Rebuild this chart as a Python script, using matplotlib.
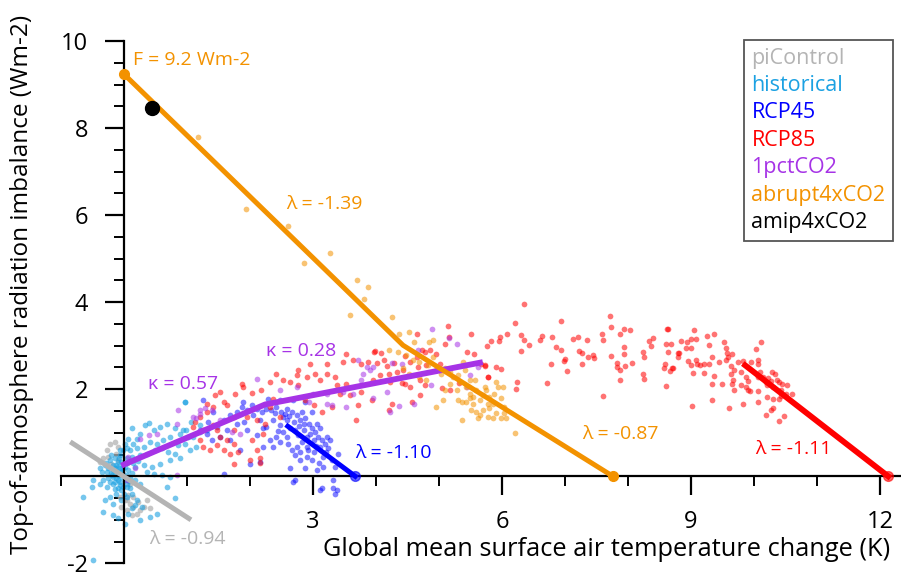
import numpy as np
import matplotlib
matplotlib.use("Agg")
import matplotlib.pyplot as plt
from matplotlib.lines import Line2D

plt.rcParams['font.family'] = ['Open Sans', 'DejaVu Sans']
plt.rcParams['axes.unicode_minus'] = False

# colours
c_pi = '#b4b4b4'
c_hist = '#1ba1e2'
c_rcp45 = '#0000ff'
c_rcp85 = '#ff0000'
c_1pct = '#a633e6'
c_abr = '#f39200'
c_amip = '#000000'

# ---- scatter clouds (dT, N) ----
pi_pts = [(-0.22, 0.75), (-0.14, 0.79), (-0.09, 0.67), (-0.27, 0.60), (-0.33, 0.41), (-0.20, 0.29),
          (0.04, -0.55), (0.10, -0.63), (0.15, -0.70), (0.23, -0.59), (0.31, -0.70), (0.41, -0.74),
          (0.25, -0.78), (0.04, -0.78), (-0.04, -0.70), (0.15, -0.48), (0.12, -0.90), (0.20, -0.86),
          (0.36, -0.55), (0.02, -0.55), (-0.06, -0.48), (0.07, -0.44), (-0.38, 0.33), (-0.25, 0.44),
          (-0.12, 0.52), (-0.09, 0.37), (0.04, -0.02), (0.10, -0.17)]

hist_pts = [(0.97, 1.71), (0.39, 1.23), (0.33, 1.17), (0.12, 1.10), (0.25, 0.98), (0.47, 1.06),
            (0.57, 1.13), (0.68, 1.20), (0.81, 1.10), (0.89, 0.98), (0.73, 0.90), (0.62, 0.83),
            (0.52, 0.75), (0.41, 0.79), (0.31, 0.67), (0.20, 0.64), (0.09, 0.60), (0.02, 0.75),
            (-0.01, 0.60), (-0.06, 0.48), (-0.14, 0.41), (-0.22, 0.37), (-0.30, 0.25), (-0.38, 0.18),
            (-0.35, 0.10), (-0.27, 0.10), (-0.17, 0.14), (-0.09, 0.21), (-0.04, 0.33), (0.04, 0.41),
            (0.12, 0.44), (0.25, 0.48), (0.36, 0.52), (0.49, 0.60), (0.60, 0.64), (0.70, 0.56),
            (0.81, 0.52), (0.86, 0.71), (0.73, 0.37), (0.57, 0.29), (0.44, 0.21), (0.31, 0.25),
            (0.18, 0.21), (0.07, 0.14), (-0.01, 0.06), (-0.09, 0.02), (-0.17, -0.02), (-0.25, -0.05),
            (-0.33, -0.09), (-0.49, -0.09), (-0.51, -0.25), (-0.38, -0.17), (-0.27, -0.25), (-0.17, -0.17),
            (-0.06, -0.13), (0.02, -0.09), (0.10, -0.05), (0.18, -0.09), (0.25, -0.17), (0.04, -0.25),
            (-0.04, -0.32), (-0.12, -0.40), (-0.22, -0.48), (-0.30, -0.55), (-0.17, -0.63), (-0.04, -0.55),
            (0.04, -0.48), (0.12, -0.40), (0.20, -0.55), (0.28, -0.70), (0.52, -0.86), (0.41, -0.94),
            (0.25, -1.01), (0.02, -1.09), (-0.09, -0.97), (-0.17, -0.90), (-0.33, -0.82), (-0.65, -0.48),
            (-0.49, -1.93), (0.68, -0.25), (0.81, -0.51), (0.73, -0.02), (0.60, 0.02), (0.47, 0.06),
            (0.36, 0.10), (-0.09, 0.33), (-0.01, 0.25), (-0.12, 0.25), (-0.17, 0.25), (-0.06, 0.18),
            (-0.14, 0.18), (-0.01, 0.18), (-0.06, 0.10), (-0.12, 0.10), (0.02, 0.21), (0.04, 0.02),
            (-0.04, -0.02), (-0.12, -0.05), (-0.06, -0.21), (0.04, -0.17), (-0.01, -0.25), (-0.09, -0.28),
            (0.10, -0.28), (-0.14, -0.13), (-0.22, -0.13), (-0.19, 0.02), (-0.25, 0.18), (-0.20, 0.48),
            (-0.06, 0.60), (0.04, 0.64), (0.15, 0.75), (0.20, 0.86), (0.07, 0.86), (0.12, -0.74),
            (0.07, -0.86), (0.18, -0.67), (0.99, 1.07), (1.07, 1.25), (1.10, 0.90), (1.21, 1.02),
            (1.21, 1.17), (1.31, 1.06), (0.94, 1.06), (1.02, 0.90), (0.97, 0.75), (1.05, 0.60),
            (1.15, 0.68), (0.89, 0.41), (0.97, 1.71),
            (-0.03, 0.12), (0.05, 0.30), (-0.10, -0.08), (0.12, 0.08), (-0.20, 0.08), (0.00, -0.40),
            (-0.08, 0.42), (0.15, 0.30), (-0.28, 0.30), (0.08, -0.12), (-0.15, -0.30), (0.22, 0.35)]

rcp45_pts = [(1.26, 1.75), (1.42, 1.48), (1.34, 1.25), (1.47, 1.13), (1.58, 1.29), (1.68, 1.40),
             (1.79, 1.48), (1.87, 1.59), (1.95, 1.52), (2.03, 1.63), (2.11, 1.55), (2.19, 1.48),
             (2.26, 1.55), (2.34, 1.52), (2.42, 1.59), (2.50, 1.48), (2.58, 1.55), (2.66, 1.48),
             (2.74, 1.40), (2.79, 1.29), (2.87, 1.33), (2.93, 1.21), (2.98, 1.10), (3.03, 1.02),
             (3.08, 0.90), (3.14, 0.83), (3.19, 0.75), (3.24, 0.64), (3.22, 0.90), (3.11, 0.68),
             (3.01, 0.83), (2.90, 0.90), (2.82, 0.79), (2.74, 0.68), (2.66, 0.60), (2.71, 0.48),
             (2.79, 0.37), (2.90, 0.44), (3.01, 0.56), (3.16, 0.44), (3.30, 0.37), (3.35, 0.21),
             (3.16, 0.21), (2.63, 0.18), (2.69, -0.13), (2.71, -0.09), (3.14, -0.28), (3.32, -0.28),
             (3.35, -0.40), (1.58, 0.06), (2.16, 0.33), (2.00, 0.29), (1.84, 0.60), (1.68, 0.83),
             (1.52, 0.90), (1.39, 0.83), (1.31, 0.98), (1.21, 1.06), (1.95, 1.06), (2.11, 0.94),
             (2.26, 1.13), (2.37, 1.29), (2.48, 1.17), (2.58, 1.29), (2.53, 1.02), (2.42, 0.90),
             (2.32, 0.83), (2.21, 0.68), (2.37, 0.68), (2.48, 0.79), (2.58, 0.90), (2.63, 1.10),
             (2.71, 1.06), (2.77, 0.94), (2.85, 1.06), (2.87, 1.71), (2.69, 1.75), (2.48, 1.75),
             (2.29, 1.78), (1.89, 1.71), (2.82, 1.48), (2.53, 1.36), (2.16, 1.29), (1.79, 1.21),
             (1.63, 1.06), (2.98, 1.48), (3.06, 1.21), (3.11, 1.10), (3.27, 0.83), (3.40, 0.52),
             (2.90, 0.68), (2.98, 0.37), (3.06, 0.14), (3.38, -0.32), (3.11, -0.31), (3.32, -0.09),
             (2.55, 1.42), (2.62, 1.38), (2.70, 1.25), (2.78, 1.15), (2.85, 1.20), (2.95, 0.98),
             (3.05, 0.70), (2.92, 0.60), (2.80, 0.55), (2.60, 0.75), (2.45, 1.05), (2.40, 1.45),
             (2.05, 1.40), (1.90, 1.25), (2.20, 1.10), (3.20, 0.55), (3.10, 0.30), (2.88, 0.20)]

rcp85_pts = [(6.35, 3.95), (6.21, 3.53), (6.08, 3.28), (5.97, 3.19), (5.95, 3.11), (5.82, 3.10),
             (5.76, 2.99), (6.30, 3.24), (6.35, 3.14), (6.43, 3.02), (6.30, 2.89), (6.60, 3.14),
             (6.64, 3.23), (6.79, 3.20), (6.93, 3.56), (6.85, 2.97), (6.93, 2.90), (6.78, 2.59),
             (6.98, 2.64), (7.00, 2.69), (7.03, 2.43), (6.72, 2.14), (7.13, 3.15), (7.21, 3.20),
             (7.35, 3.13), (7.23, 2.89), (7.27, 2.84), (7.37, 2.74), (7.44, 2.78), (7.46, 2.72),
             (7.27, 2.57), (7.59, 3.28), (7.60, 3.13), (7.72, 3.69), (7.73, 3.43), (7.73, 2.76),
             (7.87, 3.26), (7.93, 3.39), (8.04, 3.36), (7.94, 2.98), (7.93, 2.80), (7.82, 2.61),
             (7.82, 2.52), (7.87, 2.45), (7.96, 2.53), (8.06, 2.61), (7.87, 2.21), (7.60, 1.85),
             (8.24, 2.86), (8.26, 2.75), (8.24, 2.35), (8.26, 2.24), (8.34, 3.11), (8.39, 3.18),
             (8.37, 3.00), (8.62, 3.39), (8.61, 3.04), (8.68, 3.05), (8.64, 2.86), (8.58, 2.57),
             (8.57, 2.48), (8.70, 2.48), (8.67, 2.41), (8.60, 2.08), (8.80, 2.84), (8.80, 2.75),
             (5.90, 2.52), (5.98, 2.47), (5.78, 2.28), (5.73, 2.56), (6.24, 2.17), (6.23, 2.01),
             (8.63, 3.39), (9.05, 3.36), (8.71, 2.48), (8.84, 3.11), (8.93, 3.09), (9.00, 3.15),
             (9.08, 3.15), (8.92, 2.94), (9.00, 2.94), (8.81, 2.84), (8.95, 2.64), (9.00, 2.56),
             (9.03, 2.38), (9.08, 2.68), (9.10, 2.57), (9.15, 2.55), (9.20, 2.57), (9.20, 2.37),
             (9.25, 3.23), (9.36, 3.26), (9.28, 3.01), (9.34, 2.74), (9.28, 2.57), (9.37, 2.30),
             (9.33, 2.11), (9.34, 1.76), (9.02, 1.62), (9.45, 2.62), (9.50, 2.11), (9.52, 3.08),
             (9.55, 2.95), (9.57, 2.84), (9.58, 2.74), (9.56, 2.67), (9.65, 2.82), (9.63, 2.53),
             (9.68, 2.45), (9.64, 2.36), (9.66, 2.21), (9.65, 2.13), (9.68, 1.98), (9.61, 1.57),
             (9.74, 2.62), (9.82, 2.65), (9.80, 2.40), (9.80, 2.09), (9.83, 1.65), (9.88, 2.27),
             (9.90, 2.18), (9.87, 2.05), (9.90, 1.98), (9.93, 1.95), (9.96, 2.63), (10.03, 2.93),
             (10.06, 2.68), (10.07, 2.57), (10.11, 3.09), (10.10, 2.40), (10.06, 2.27), (10.07, 1.96),
             (10.06, 1.71), (10.15, 2.28), (10.19, 2.17), (10.23, 2.25), (10.28, 2.40), (10.34, 2.34),
             (10.27, 2.18), (10.20, 2.09), (10.31, 2.05), (10.36, 2.21), (10.40, 2.17), (10.44, 2.11),
             (10.52, 2.09), (10.43, 1.98), (10.51, 1.90), (10.61, 1.90), (10.39, 1.77), (10.31, 1.77),
             (10.20, 1.82), (10.43, 1.85), (10.30, 1.58), (10.27, 1.52), (10.19, 1.40), (10.47, 1.38),
             (10.39, 1.27),
             (5.15, 3.46), (5.51, 3.27), (5.16, 3.19), (5.09, 3.03), (4.65, 3.26), (5.45, 2.85),
             (5.56, 2.81), (5.67, 2.58), (5.73, 2.54), (5.78, 2.28), (5.05, 2.02), (5.17, 1.98),
             (5.31, 2.15), (3.98, 2.87), (4.08, 2.84), (4.13, 2.67), (4.02, 2.60), (4.17, 2.53),
             (4.29, 2.61), (4.46, 2.77), (4.54, 2.63), (4.65, 2.74), (4.73, 2.90), (4.78, 2.86),
             (4.86, 2.90), (4.96, 2.82), (5.02, 2.59), (4.80, 2.55), (4.67, 2.51), (4.43, 2.44),
             (4.33, 2.40), (4.20, 2.36), (4.06, 2.32), (3.96, 2.21), (4.70, 2.21), (4.78, 2.09),
             (4.54, 2.05), (4.41, 2.15), (4.22, 2.17), (4.70, 1.86), (4.57, 1.71), (4.25, 1.67),
             (4.21, 1.52), (4.46, 2.12),
             (3.97, 2.86), (3.53, 2.80), (3.64, 2.67), (3.48, 2.63), (3.77, 2.59), (3.88, 2.63),
             (3.22, 2.59), (2.95, 2.57), (3.03, 2.36), (3.11, 2.22), (3.22, 2.36), (3.35, 2.28),
             (3.38, 2.09), (3.53, 2.13), (3.43, 1.90), (3.59, 1.86), (3.77, 1.94), (3.93, 1.75),
             (3.72, 1.63), (3.69, 1.29), (3.30, 1.59), (3.14, 1.48), (3.01, 1.63), (2.87, 1.75),
             (2.77, 2.09), (2.63, 2.17), (2.53, 2.21), (2.42, 2.36), (2.74, 2.32), (2.32, 2.17),
             (2.18, 1.98), (2.03, 1.92), (1.89, 2.05), (1.87, 2.11), (1.76, 1.90), (1.52, 1.94),
             (1.58, 1.71), (1.42, 1.59), (1.31, 1.48), (1.21, 1.36), (1.13, 1.25), (1.10, 1.13),
             (1.26, 1.06), (1.42, 1.17), (1.52, 0.90), (1.63, 0.83), (1.74, 1.06), (1.95, 1.36),
             (2.11, 1.29), (2.21, 0.98), (2.03, 0.83), (2.16, 0.41), (2.00, 0.37), (1.81, 0.56),
             (1.74, 0.75), (1.68, 0.52), (1.58, 0.60), (1.47, 0.71), (1.37, 0.60), (2.32, 1.59),
             (2.48, 1.36), (2.24, 1.21), (1.21, 0.83), (2.37, 1.78), (2.77, 2.45), (2.90, 2.28),
             (1.44, 1.86), (1.31, 1.67), (1.63, 1.63), (1.74, 1.36), (1.47, 1.06), (2.11, 0.60),
             (2.16, 0.31), (1.74, 0.29), (1.26, 0.67)]

pct1_pts = [(0.86, 1.52), (0.52, 0.98), (0.39, 0.94), (0.25, 0.86), (0.07, 0.44), (0.18, 0.18),
            (0.04, -0.09), (0.84, 0.02), (1.15, 1.33), (1.21, 1.52), (1.29, 1.56), (2.11, 2.23),
            (2.48, 1.98), (2.74, 2.05), (3.22, 1.67), (3.48, 1.94), (3.72, 2.67), (3.77, 2.21),
            (3.90, 2.44), (3.00, 1.90), (1.84, 0.98), (1.39, 1.52), (0.84, 1.21), (2.93, 1.71),
            (3.30, 1.63), (3.64, 1.90), (3.80, 2.36), (3.85, 2.51), (3.53, 1.59), (1.21, 1.44),
            (1.10, 1.36), (1.52, 1.29), (1.71, 1.02), (3.22, 1.90), (4.89, 3.39), (5.16, 3.18),
            (5.28, 3.03), (4.67, 2.90), (4.26, 2.61), (4.42, 2.58), (4.18, 1.93), (4.37, 1.61),
            (4.22, 1.48), (4.61, 1.67), (4.87, 2.09), (5.44, 2.06), (5.62, 2.50), (3.96, 1.79),
            (3.96, 2.51), (5.49, 2.32)]

abr_pts = [(1.17, 7.79), (1.94, 6.14), (2.60, 5.75), (2.86, 4.90), (3.27, 5.13), (3.70, 4.51),
           (3.87, 4.34), (3.81, 4.07), (3.59, 3.70), (4.25, 3.65), (4.37, 3.28), (4.52, 3.31),
           (4.60, 3.09), (4.84, 3.08), (4.91, 3.12), (4.20, 2.90), (4.35, 2.86), (4.48, 2.79),
           (4.59, 2.67), (4.69, 2.63), (4.83, 2.56), (4.91, 2.75), (4.96, 2.44), (5.04, 2.36),
           (5.09, 2.48), (5.17, 2.40), (5.22, 2.29), (5.30, 2.33), (5.33, 2.17), (5.38, 2.63),
           (5.41, 2.44), (5.43, 2.06), (5.49, 1.90), (5.54, 1.83), (5.59, 1.98), (5.65, 1.75),
           (5.70, 1.87), (5.75, 1.98), (5.78, 1.67), (5.80, 1.56), (5.86, 1.67), (5.88, 1.90),
           (5.91, 2.17), (5.94, 2.06), (5.99, 1.79), (6.02, 2.06), (6.04, 1.60), (5.99, 1.33),
           (6.04, 1.45), (6.07, 1.33), (5.91, 1.45), (5.86, 1.33), (5.78, 1.37), (5.70, 1.52),
           (5.65, 1.41), (5.59, 1.48), (5.54, 1.67), (5.49, 1.79), (5.36, 1.71), (5.36, 1.29),
           (5.17, 2.13), (5.09, 1.98), (5.06, 1.75), (4.96, 1.60), (5.28, 1.98), (5.30, 1.75),
           (5.43, 1.71), (5.49, 2.21), (5.57, 2.21), (5.73, 2.06), (6.20, 0.99), (5.62, 1.33),
           (5.80, 1.83), (4.80, 2.21), (4.69, 2.29), (4.53, 2.36), (4.43, 2.48), (5.51, 1.52)]

# ---- regression lines ----
pi_line_x, pi_line_y = [-0.82, 1.03], [0.76, -0.97]
rcp45_line_x, rcp45_line_y = [2.60, 3.67], [1.15, 0.0]
rcp85_line_x, rcp85_line_y = [9.86, 12.13], [2.55, 0.0]
pct1_line_x, pct1_line_y = [0.0, 2.24, 5.65], [0.27, 1.65, 2.61]
abr_line_x, abr_line_y = [0.0, 4.43, 7.76], [9.24, 3.01, 0.0]
amip_x, amip_y = 0.44, 8.46

legend_names = ['piControl', 'historical', 'RCP45', 'RCP85', '1pctCO2', 'abrupt4xCO2', 'amip4xCO2']
legend_colors = [c_pi, c_hist, c_rcp45, c_rcp85, c_1pct, c_abr, c_amip]

fig = plt.figure(figsize=(9.01, 5.85), dpi=100)
ax = fig.add_axes([61 / 901, 13 / 585, 841 / 901, 557 / 585])

pt_size = 17
for pts, col, a in [(pi_pts, c_pi, 0.75), (hist_pts, c_hist, 0.6), (rcp45_pts, c_rcp45, 0.5),
                    (rcp85_pts, c_rcp85, 0.55), (pct1_pts, c_1pct, 0.55), (abr_pts, c_abr, 0.55)]:
    arr = np.array(pts)
    ax.scatter(arr[:, 0], arr[:, 1], s=pt_size, color=col, alpha=a, lw=0, zorder=2)

ax.plot(pi_line_x, pi_line_y, color=c_pi, lw=3.6, zorder=3)
ax.plot(rcp45_line_x, rcp45_line_y, color=c_rcp45, lw=3.6, zorder=3)
ax.plot(rcp45_line_x[-1], rcp45_line_y[-1], 'o', color=c_rcp45, ms=7, alpha=0.6, zorder=3)
ax.plot(rcp85_line_x, rcp85_line_y, color=c_rcp85, lw=4.2, zorder=3)
ax.plot(rcp85_line_x[-1], rcp85_line_y[-1], 'o', color=c_rcp85, ms=7, alpha=0.6, zorder=3)
ax.plot(pct1_line_x, pct1_line_y, color=c_1pct, lw=4.2, zorder=3)
ax.plot(abr_line_x, abr_line_y, color=c_abr, lw=3.6, zorder=3)
ax.plot([abr_line_x[0], abr_line_x[-1]], [abr_line_y[0], abr_line_y[-1]], 'o', color=c_abr, ms=7, zorder=4)
ax.plot(amip_x, amip_y, 'o', color=c_amip, ms=10, zorder=5)

# annotations
fs = 14
ax.text(0.14, 9.56, 'F = 9.2 Wm-2', color=c_abr, fontsize=fs, va='center')
ax.text(2.57, 6.25, 'λ = -1.39', color=c_abr, fontsize=fs, va='center')
ax.text(7.27, 0.97, 'λ = -0.87', color=c_abr, fontsize=fs, va='center')
ax.text(10.02, 0.62, 'λ = -1.11', color=c_rcp85, fontsize=fs, va='center')
ax.text(3.67, 0.53, 'λ = -1.10', color=c_rcp45, fontsize=fs, va='center')
ax.text(0.40, -1.45, 'λ = -0.94', color=c_pi, fontsize=fs, va='center')
ax.text(0.38, 2.11, 'κ = 0.57', color=c_1pct, fontsize=fs, va='center')
ax.text(2.25, 2.87, 'κ = 0.28', color=c_1pct, fontsize=fs, va='center')

# axes through the origin
ax.set_xlim(-1.0, 12.35)
ax.set_ylim(-2.2, 10.6)
for s in ['top', 'right']:
    ax.spines[s].set_visible(False)
ax.spines['left'].set_position(('data', 0))
ax.spines['bottom'].set_position(('data', 0))
ax.spines['left'].set_bounds(-2, 10)
ax.spines['left'].set_linewidth(1.6)
ax.spines['bottom'].set_linewidth(1.6)

ax.set_xticks([3, 6, 9, 12])
ax.set_xticks(np.arange(-1, 13, 1), minor=True)
ax.set_yticks([-2, 2, 4, 6, 8, 10])
ax.set_yticks(np.arange(-2, 10.01, 0.5), minor=True)
ax.tick_params(axis='both', which='major', length=14, width=1.6, labelsize=17, direction='out')
ax.tick_params(axis='both', which='minor', length=7, width=1.4, direction='out')
ax.tick_params(axis='y', which='major', pad=12)
ax.tick_params(axis='x', which='major', pad=10)

fig.text(22 / 901, 1 - 284 / 585, 'Top-of-atmosphere radiation imbalance (Wm-2)', rotation=90,
         ha='center', va='center', fontsize=17.5)
fig.text(607 / 901, 1 - 549 / 585, 'Global mean surface air temperature change (K)',
         ha='center', va='center', fontsize=18.3)

handles = [Line2D([], [], linestyle='none') for _ in legend_names]
leg = ax.legend(handles, legend_names, loc='upper right', bbox_to_anchor=(893 / 901, 1 - 40 / 585),
                bbox_transform=fig.transFigure, handlelength=0, handletextpad=0, fontsize=15.5,
                labelcolor=legend_colors, fancybox=False, framealpha=1, borderpad=0.35,
                labelspacing=0.3, borderaxespad=0)
leg.get_frame().set_edgecolor('#555555')
leg.get_frame().set_linewidth(1.3)

fig.savefig('out.png', dpi=100)
